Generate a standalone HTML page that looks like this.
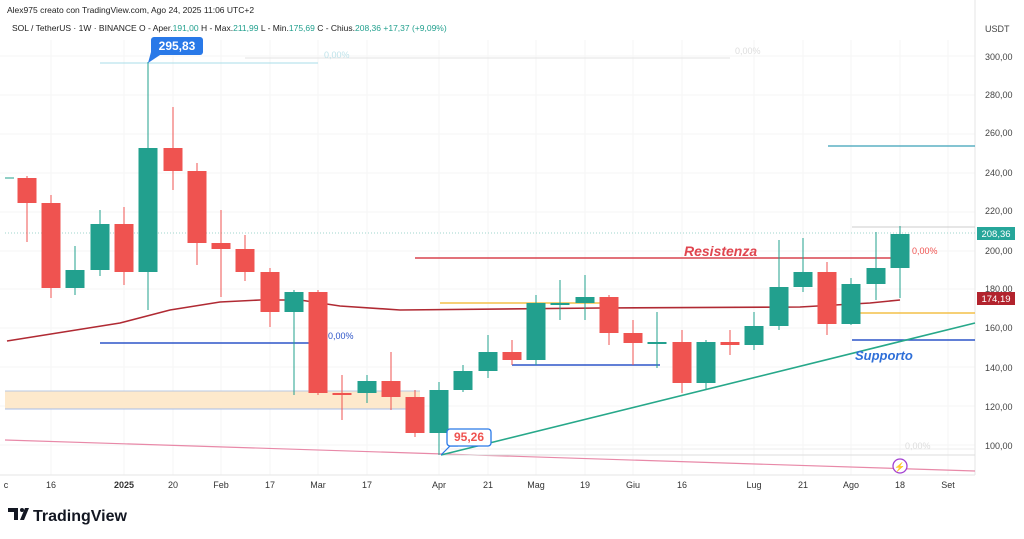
<!DOCTYPE html>
<html><head><meta charset="utf-8"><style>
body{margin:0;background:#fff;width:1024px;height:534px;overflow:hidden}
</style></head><body>
<svg width="1024" height="534" xmlns="http://www.w3.org/2000/svg" font-family="Liberation Sans, sans-serif">
<rect width="1024" height="534" fill="#fff"/>
<g stroke="#f6f6f6">
<line x1="0" y1="56" x2="975" y2="56"/><line x1="0" y1="95" x2="975" y2="95"/><line x1="0" y1="134" x2="975" y2="134"/><line x1="0" y1="173" x2="975" y2="173"/><line x1="0" y1="212" x2="975" y2="212"/><line x1="0" y1="251" x2="975" y2="251"/><line x1="0" y1="289" x2="975" y2="289"/><line x1="0" y1="328" x2="975" y2="328"/><line x1="0" y1="367" x2="975" y2="367"/><line x1="0" y1="406" x2="975" y2="406"/><line x1="0" y1="445" x2="975" y2="445"/>
<line x1="51" y1="40" x2="51" y2="475"/><line x1="124" y1="40" x2="124" y2="475"/><line x1="173" y1="40" x2="173" y2="475"/><line x1="221" y1="40" x2="221" y2="475"/><line x1="270" y1="40" x2="270" y2="475"/><line x1="318" y1="40" x2="318" y2="475"/><line x1="367" y1="40" x2="367" y2="475"/><line x1="439" y1="40" x2="439" y2="475"/><line x1="488" y1="40" x2="488" y2="475"/><line x1="536" y1="40" x2="536" y2="475"/><line x1="585" y1="40" x2="585" y2="475"/><line x1="633" y1="40" x2="633" y2="475"/><line x1="682" y1="40" x2="682" y2="475"/><line x1="754" y1="40" x2="754" y2="475"/><line x1="803" y1="40" x2="803" y2="475"/><line x1="851" y1="40" x2="851" y2="475"/><line x1="900" y1="40" x2="900" y2="475"/><line x1="948" y1="40" x2="948" y2="475"/>
</g>
<line x1="975" y1="0" x2="975" y2="475" stroke="#e6e6e6"/>
<line x1="0" y1="475" x2="975" y2="475" stroke="#e6e6e6"/>
<rect x="5" y="391" width="415" height="18" fill="#fde9cc"/>
<line x1="5" y1="391" x2="420" y2="391" stroke="#b9c8e0"/>
<line x1="5" y1="409" x2="420" y2="409" stroke="#a8bde6"/>
<line x1="100" y1="63" x2="318" y2="63" stroke="#a8dde8"/>
<line x1="245" y1="58" x2="730" y2="58" stroke="#e3e3e3"/>
<line x1="5" y1="440" x2="975" y2="471" stroke="#e889a8" stroke-width="1.2"/>
<line x1="441" y1="455" x2="975" y2="455" stroke="#ddd"/>
<line x1="441" y1="449" x2="975" y2="449" stroke="#eee"/>
<line x1="5" y1="233" x2="975" y2="233" stroke="#9fd6cc" stroke-dasharray="1 2"/>
<line x1="852" y1="227" x2="975" y2="227" stroke="#ccc"/>
<line x1="828" y1="146" x2="975" y2="146" stroke="#3aa0b8" stroke-width="1.3"/>
<line x1="100" y1="343" x2="310" y2="343" stroke="#2d55c8" stroke-width="1.5"/>
<line x1="512" y1="365" x2="660" y2="365" stroke="#2d55c8" stroke-width="1.5"/>
<line x1="852" y1="340" x2="975" y2="340" stroke="#2d55c8" stroke-width="1.5"/>
<line x1="440" y1="303" x2="600" y2="303" stroke="#f4c048" stroke-width="1.5"/>
<line x1="852" y1="313" x2="975" y2="313" stroke="#f4c048" stroke-width="1.5"/>
<line x1="415" y1="258" x2="900" y2="258" stroke="#d9434e" stroke-width="1.5"/>
<polyline points="7,341 120,323 170,310 220,302 260,300 300,300 340,306 400,310 600,308 800,307 870,303 900,300" fill="none" stroke="#b02a33" stroke-width="1.6"/>
<line x1="5" y1="178" x2="14" y2="178" stroke="#22a08e"/>
<g fill="#ef5350" stroke="#ef5350">
<line x1="27" y1="176" x2="27" y2="242"/><rect x="17.5" y="178" width="19" height="25" stroke="none"/>
<line x1="51" y1="195" x2="51" y2="298"/><rect x="41.5" y="203" width="19" height="85" stroke="none"/>
<line x1="124" y1="207" x2="124" y2="285"/><rect x="114.5" y="224" width="19" height="48" stroke="none"/>
<line x1="173" y1="107" x2="173" y2="190"/><rect x="163.5" y="148" width="19" height="23" stroke="none"/>
<line x1="197" y1="163" x2="197" y2="265"/><rect x="187.5" y="171" width="19" height="72" stroke="none"/>
<line x1="221" y1="210" x2="221" y2="297"/><rect x="211.5" y="243" width="19" height="6" stroke="none"/>
<line x1="245" y1="235" x2="245" y2="281"/><rect x="235.5" y="249" width="19" height="23" stroke="none"/>
<line x1="270" y1="268" x2="270" y2="327"/><rect x="260.5" y="272" width="19" height="40" stroke="none"/>
<line x1="318" y1="290" x2="318" y2="395"/><rect x="308.5" y="292" width="19" height="101" stroke="none"/>
<line x1="342" y1="375" x2="342" y2="420"/><rect x="332.5" y="393" width="19" height="2" stroke="none"/>
<line x1="391" y1="352" x2="391" y2="410"/><rect x="381.5" y="381" width="19" height="16" stroke="none"/>
<line x1="415" y1="390" x2="415" y2="437"/><rect x="405.5" y="397" width="19" height="36" stroke="none"/>
<line x1="512" y1="340" x2="512" y2="365"/><rect x="502.5" y="352" width="19" height="8" stroke="none"/>
<line x1="609" y1="295" x2="609" y2="345"/><rect x="599.5" y="297" width="19" height="36" stroke="none"/>
<line x1="633" y1="320" x2="633" y2="365"/><rect x="623.5" y="333" width="19" height="10" stroke="none"/>
<line x1="682" y1="330" x2="682" y2="393"/><rect x="672.5" y="342" width="19" height="41" stroke="none"/>
<line x1="730" y1="330" x2="730" y2="355"/><rect x="720.5" y="342" width="19" height="3" stroke="none"/>
<line x1="827" y1="262" x2="827" y2="335"/><rect x="817.5" y="272" width="19" height="52" stroke="none"/>
</g>
<g fill="#22a08e" stroke="#22a08e">
<line x1="75" y1="246" x2="75" y2="295"/><rect x="65.5" y="270" width="19" height="18" stroke="none"/>
<line x1="100" y1="210" x2="100" y2="276"/><rect x="90.5" y="224" width="19" height="46" stroke="none"/>
<line x1="148" y1="62" x2="148" y2="310"/><rect x="138.5" y="148" width="19" height="124" stroke="none"/>
<line x1="294" y1="290" x2="294" y2="395"/><rect x="284.5" y="292" width="19" height="20" stroke="none"/>
<line x1="367" y1="375" x2="367" y2="403"/><rect x="357.5" y="381" width="19" height="12" stroke="none"/>
<line x1="439" y1="382" x2="439" y2="455"/><rect x="429.5" y="390" width="19" height="43" stroke="none"/>
<line x1="463" y1="365" x2="463" y2="392"/><rect x="453.5" y="371" width="19" height="19" stroke="none"/>
<line x1="488" y1="335" x2="488" y2="378"/><rect x="478.5" y="352" width="19" height="19" stroke="none"/>
<line x1="536" y1="295" x2="536" y2="365"/><rect x="526.5" y="303" width="19" height="57" stroke="none"/>
<line x1="560" y1="280" x2="560" y2="320"/><rect x="550.5" y="303" width="19" height="2" stroke="none"/>
<line x1="585" y1="275" x2="585" y2="320"/><rect x="575.5" y="297" width="19" height="6" stroke="none"/>
<line x1="657" y1="312" x2="657" y2="368"/><rect x="647.5" y="342" width="19" height="2" stroke="none"/>
<line x1="706" y1="340" x2="706" y2="390"/><rect x="696.5" y="342" width="19" height="41" stroke="none"/>
<line x1="754" y1="312" x2="754" y2="350"/><rect x="744.5" y="326" width="19" height="19" stroke="none"/>
<line x1="779" y1="240" x2="779" y2="330"/><rect x="769.5" y="287" width="19" height="39" stroke="none"/>
<line x1="803" y1="238" x2="803" y2="292"/><rect x="793.5" y="272" width="19" height="15" stroke="none"/>
<line x1="851" y1="278" x2="851" y2="325"/><rect x="841.5" y="284" width="19" height="40" stroke="none"/>
<line x1="876" y1="232" x2="876" y2="300"/><rect x="866.5" y="268" width="19" height="16" stroke="none"/>
<line x1="900" y1="226" x2="900" y2="298"/><rect x="890.5" y="234" width="19" height="34" stroke="none"/>
</g>
<line x1="441" y1="455" x2="975" y2="323" stroke="#27a88a" stroke-width="1.6"/>
<text x="684" y="256" font-size="14" font-weight="bold" font-style="italic" fill="#e0454f">Resistenza</text>
<text x="855" y="360" font-size="13" font-weight="bold" font-style="italic" fill="#2f6fd8">Supporto</text>
<text x="912" y="254" font-size="9" fill="#ef5350">0,00%</text>
<text x="328" y="339" font-size="9" fill="#2d55c8">0,00%</text>
<text x="324" y="58" font-size="9" fill="#bfe3ea">0,00%</text>
<text x="735" y="54" font-size="9" fill="#ddd">0,00%</text>
<text x="905" y="449" font-size="9" fill="#ddd">0,00%</text>
<rect x="151" y="37" width="52" height="18" rx="3" fill="#2979e8"/>
<path d="M151,52 L148,63 L160,55Z" fill="#2979e8"/>
<text x="177" y="50" font-size="12" font-weight="bold" fill="#fff" text-anchor="middle">295,83</text>
<path d="M441,455 L450,446 L458,446" fill="none" stroke="#2979e8" stroke-width="1.2"/>
<rect x="447" y="429" width="44" height="17" rx="3" fill="#fff" stroke="#2979e8" stroke-width="1.3"/>
<text x="469" y="441" font-size="12" font-weight="bold" fill="#ef5350" text-anchor="middle">95,26</text>
<circle cx="900" cy="466" r="7" fill="#fff" stroke="#a33fd1" stroke-width="1.3"/>
<text x="900" y="470" font-size="9" fill="#a33fd1" text-anchor="middle">⚡</text>
<g font-size="9" fill="#444">
<text x="985" y="32">USDT</text>
<text x="985" y="60">300,00</text><text x="985" y="98">280,00</text><text x="985" y="136">260,00</text><text x="985" y="176">240,00</text><text x="985" y="214">220,00</text><text x="985" y="254">200,00</text><text x="985" y="292">180,00</text><text x="985" y="331">160,00</text><text x="985" y="371">140,00</text><text x="985" y="410">120,00</text><text x="985" y="449">100,00</text>
</g>
<rect x="977" y="227" width="38" height="13" fill="#26a69a"/>
<text x="996" y="237" font-size="9.5" fill="#fff" text-anchor="middle">208,36</text>
<rect x="977" y="292" width="38" height="13" fill="#b2232d"/>
<text x="996" y="302" font-size="9.5" fill="#fff" text-anchor="middle">174,19</text>
<g font-size="9" fill="#333" text-anchor="middle">
<text x="6" y="488">c</text><text x="51" y="488">16</text><text x="124" y="488" font-weight="bold">2025</text><text x="173" y="488">20</text><text x="221" y="488">Feb</text><text x="270" y="488">17</text><text x="318" y="488">Mar</text><text x="367" y="488">17</text><text x="439" y="488">Apr</text><text x="488" y="488">21</text><text x="536" y="488">Mag</text><text x="585" y="488">19</text><text x="633" y="488">Giu</text><text x="682" y="488">16</text><text x="754" y="488">Lug</text><text x="803" y="488">21</text><text x="851" y="488">Ago</text><text x="900" y="488">18</text><text x="948" y="488">Set</text>
</g>
<text x="7" y="13" font-size="8.5" fill="#222">Alex975 creato con TradingView.com, Ago 24, 2025 11:06 UTC+2</text>
<text x="12" y="31" font-size="8.5" fill="#222">SOL / TetherUS · 1W · BINANCE  O - Aper.<tspan fill="#22a08e">191,00</tspan>  H - Max.<tspan fill="#22a08e">211,99</tspan>  L - Min.<tspan fill="#22a08e">175,69</tspan>  C - Chius.<tspan fill="#22a08e">208,36  +17,37 (+9,09%)</tspan></text>
<path d="M8,508 h10 v12 h-4 v-8 h-6z M20,520 l5,-12 h4 l-5,12z" fill="#131722"/>
<circle cx="22" cy="510" r="2" fill="#131722"/>
<text x="33" y="521" font-size="16" font-weight="bold" fill="#131722">TradingView</text>
</svg>
</body></html>
